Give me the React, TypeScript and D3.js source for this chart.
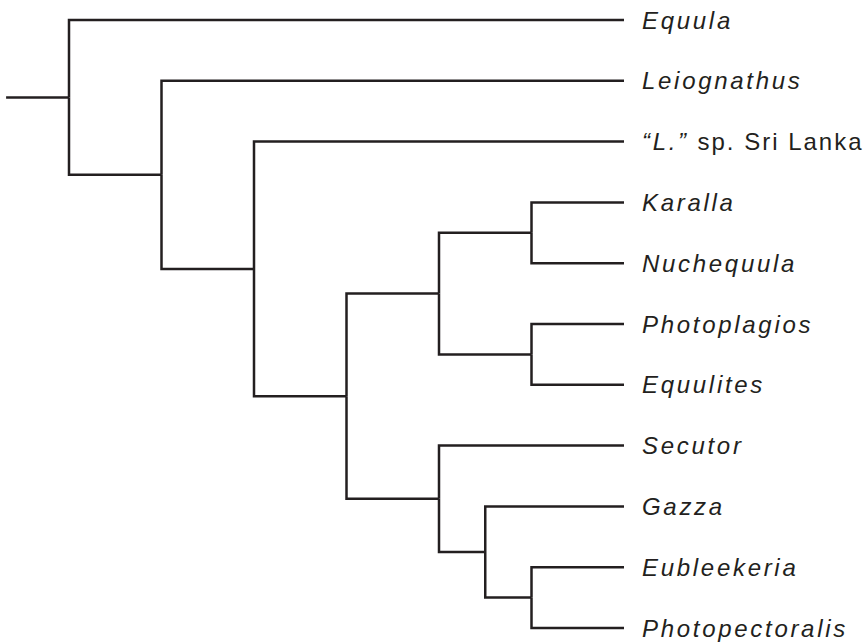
import React from "react";
import * as d3 from "d3";

// tree topology
const nodeIds = ["n0", "n1", "n2", "n3", "n4a", "n5a", "n5b", "n4b", "n45", "n5c"];
const nodeParents = [null, "n0", "n1", "n2", "n3", "n4a", "n4a", "n3", "n4b", "n45"];
const nodeRanks = [0, 1, 2, 3, 4, 5, 5, 4, 4.5, 5];

const taxa = [
  "Equula",
  "Leiognathus",
  "\u201cL.\u201d sp. Sri Lanka",
  "Karalla",
  "Nuchequula",
  "Photoplagios",
  "Equulites",
  "Secutor",
  "Gazza",
  "Eubleekeria",
  "Photopectoralis",
];
const taxonParents = ["n0", "n1", "n2", "n5a", "n5a", "n5b", "n5b", "n4b", "n45", "n5c", "n5c"];
const leafRank = 6;
const rootStemRank = -0.68;

const W = 867;
const H = 643;
const ink = "#231f20";

type Row = { id: string; parent: string | null; rank: number; leaf: boolean };

function Label({ name, x, y }: { name: string; x: number; y: number }) {
  // "“L.” sp. Sri Lanka": only the quoted genus is italic
  const m = name.match(/^(\u201c.*?\u201d)(.*)$/);
  return (
    <text
      x={x}
      y={y}
      dy={8.5}
      fontFamily="'Liberation Sans', Arial, Helvetica, sans-serif"
      fontSize={24}
      letterSpacing={2.7}
      fill={ink}
    >
      {m ? (
        <>
          <tspan fontStyle="italic">{m[1]}</tspan>
          <tspan letterSpacing={2}>{m[2]}</tspan>
        </>
      ) : (
        <tspan fontStyle="italic">{name}</tspan>
      )}
    </text>
  );
}

export default function App() {
  const rows: Row[] = [
    ...nodeIds.map((id, i) => ({ id, parent: nodeParents[i], rank: nodeRanks[i], leaf: false })),
    ...taxa.map((id, i) => ({ id, parent: taxonParents[i], rank: leafRank, leaf: true })),
  ];

  const root = d3
    .stratify<Row>()
    .id((d) => d.id)
    .parentId((d) => d.parent)(rows);

  const x = d3.scaleLinear().domain([0, leafRank]).range([69, 624]);
  const y = d3.scalePoint<string>().domain(taxa).range([20, 628]);

  const ypos = new Map<string, number>();
  root.eachAfter((n) => {
    if (n.data.leaf) {
      ypos.set(n.data.id, y(n.data.id) as number);
    } else {
      const ext = d3.extent(n.children!.map((c) => ypos.get(c.data.id)!)) as [number, number];
      ypos.set(n.data.id, (ext[0] + ext[1]) / 2);
    }
  });

  const links = root.links();
  const rootY = ypos.get(root.data.id)!;

  return (
    <svg
      width={W}
      height={H}
      style={{ position: "absolute", left: 0, top: 0, background: "#fff" }}
    >
      <g fill="none" stroke={ink} strokeWidth={2.5} strokeLinejoin="miter">
        <path d={`M${x(rootStemRank)},${rootY}H${x(root.data.rank)}`} />
        {links.map((l) => {
          const px = x(l.source.data.rank);
          const py = ypos.get(l.source.data.id)!;
          const cx = x(l.target.data.rank);
          const cy = ypos.get(l.target.data.id)!;
          return <path key={l.target.data.id} d={`M${px},${py}V${cy}H${cx}`} />;
        })}
      </g>
      {taxa.map((t) => (
        <Label key={t} name={t} x={x(leafRank) + 18} y={y(t) as number} />
      ))}
    </svg>
  );
}
